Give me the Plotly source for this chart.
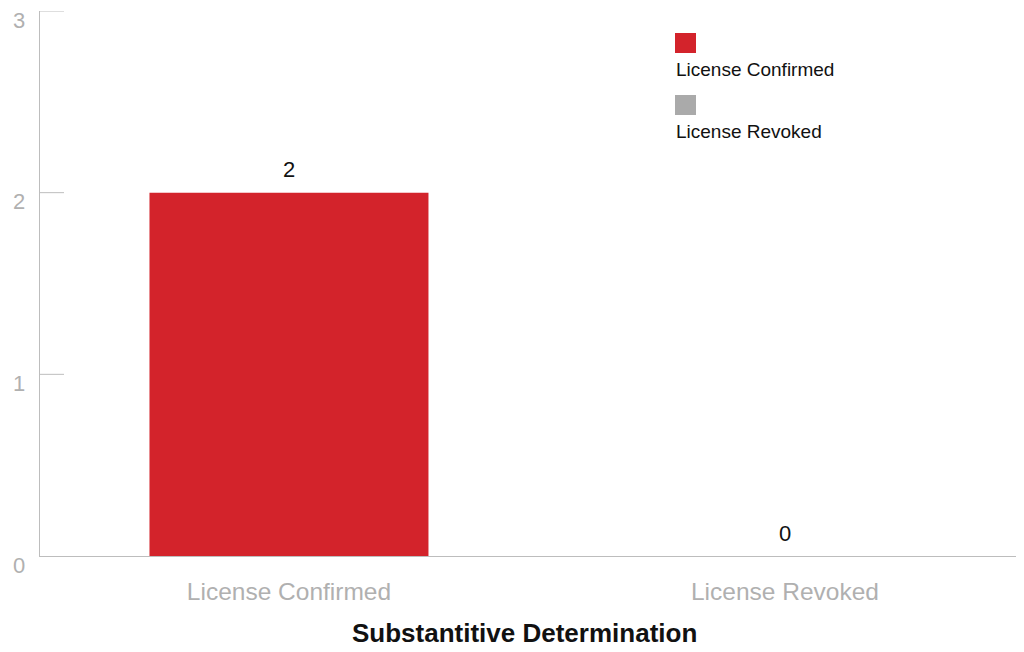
import plotly.graph_objects as go

categories = ["License Confirmed", "License Revoked"]
values = [2, 0]
colors = ["#d3232b", "#aaaaaa"]
y_ticks = [0, 1, 2, 3]
y_tick_labels = ["0", "1", "2", "3"]
x_title = "Substantitive Determination"

font_main = "Helvetica Neue, Liberation Sans, Arial, sans-serif"
AXIS_COLOR = "#bdbdbd"

# page offset compensation (browser body margin)
OFF = 8
L, T, W_PLOT, H_PLOT = 40 - OFF, 11 - OFF, 984, 545
TICK_LEN = 24

fig = go.Figure()
fig.add_trace(go.Bar(
    x=categories, y=values,
    marker=dict(color=colors, line=dict(width=0)),
    width=0.5625,
    showlegend=False,
    hoverinfo="skip",
))

# value labels above bars
for c, v in zip(categories, values):
    fig.add_annotation(x=c, y=v, xref="x", yref="y", yshift=23, yanchor="middle",
                       text=str(v), showarrow=False,
                       font=dict(family=font_main, size=22, color="#111111"))

# y ticks and tick labels (labels sit slightly below the tick, like the reference)
for v, lab in zip(y_ticks, y_tick_labels):
    if v > 0:
        fig.add_shape(type="line", xref="paper", yref="y",
                      x0=0, x1=TICK_LEN / W_PLOT, y0=v, y1=v,
                      line=dict(color=AXIS_COLOR, width=1))
    fig.add_annotation(x=0, xref="paper", xanchor="right", xshift=-13,
                       y=v, yref="y", yshift=-9, yanchor="middle",
                       text=lab, showarrow=False,
                       font=dict(family=font_main, size=22, color="#b0b0b0"))

# custom legend: swatch above label
def px_x(x):
    return (x - 40) / W_PLOT

def px_y(y):
    return 1 - (y - 11) / H_PLOT

for i, (cat, col) in enumerate(zip(categories, colors)):
    dy = i * 62
    fig.add_shape(type="rect", xref="paper", yref="paper",
                  x0=px_x(675), x1=px_x(696),
                  y0=px_y(53 + dy), y1=px_y(33 + dy),
                  fillcolor=col, line=dict(width=0))
    fig.add_annotation(xref="paper", yref="paper",
                       x=px_x(674), xanchor="left",
                       y=px_y(69 + dy), yanchor="middle",
                       text=cat, showarrow=False,
                       font=dict(family=font_main, size=19, color="#111111"))

# x-axis title
fig.add_annotation(xref="paper", yref="paper", x=px_x(524), xanchor="center",
                   y=px_y(633), yanchor="middle", showarrow=False,
                   text="<b>" + x_title + "</b>",
                   font=dict(family="Futura, Liberation Sans, Arial, sans-serif", size=26, color="#111111"))

fig.update_layout(
    width=1024, height=652,
    margin=dict(l=L, r=1024 - L - W_PLOT, t=T, b=652 - T - H_PLOT),
    paper_bgcolor="white", plot_bgcolor="white",
    font=dict(family=font_main),
    xaxis=dict(
        range=[-0.502, 1.482],
        showline=True, linecolor=AXIS_COLOR, linewidth=1,
        ticks="", showgrid=False, zeroline=False,
        ticklabelstandoff=14,
        tickfont=dict(family=font_main, size=24.5, color="#b0b0b0"),
    ),
    yaxis=dict(
        range=[0, 3],
        showticklabels=False, ticks="",
        showline=True, linecolor=AXIS_COLOR, linewidth=1,
        showgrid=False, zeroline=False,
    ),
)

fig.write_html("out.html")
